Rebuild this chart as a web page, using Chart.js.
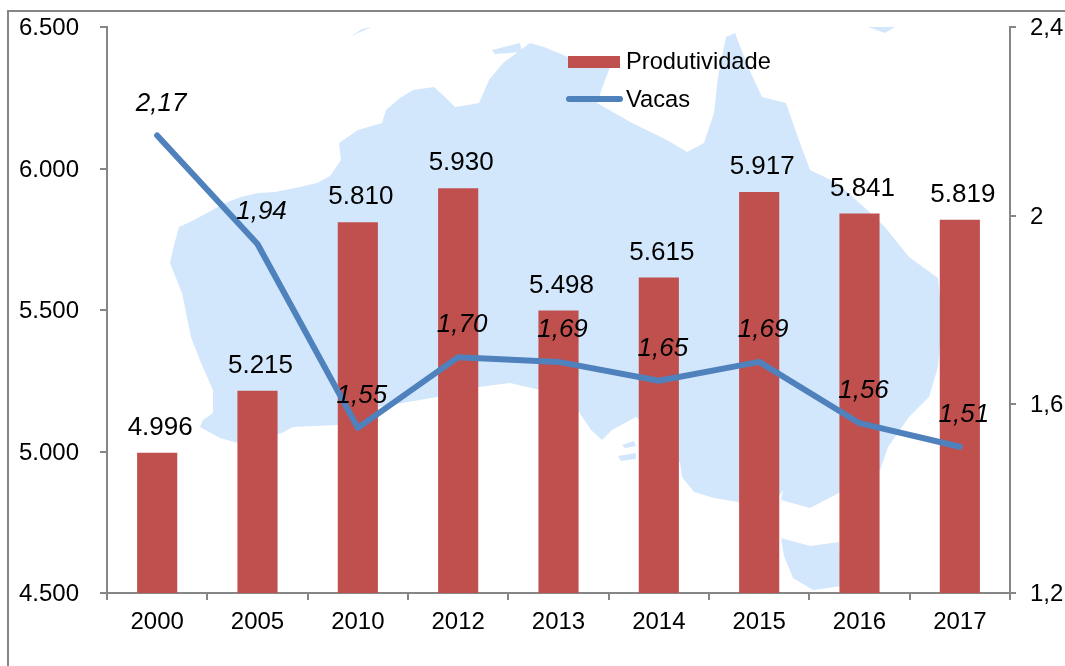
<!DOCTYPE html>
<html>
<head>
<meta charset="utf-8">
<script src="https://cdn.jsdelivr.net/npm/chart.js@4"></script>
<style>
    html, body { margin: 0; padding: 0; background: #fff; overflow: hidden; }
    #wrap { position: relative; width: 1065px; height: 666px; overflow: hidden; }
    #frame { position: absolute; left: 7px; top: 10px; width: 1100px; height: 700px; border: 2px solid #868686; }
    canvas { position: absolute; left: 0; top: 0; }
</style>
</head>
<body>
<div id="wrap">
    <div id="frame"></div>
    <canvas id="chart" width="1065" height="666"></canvas>
</div>
<script>
const years = ['2000', '2005', '2010', '2012', '2013', '2014', '2015', '2016', '2017'];
const produtividade = [4996, 5215, 5810, 5930, 5498, 5615, 5917, 5841, 5819];
const vacas = [2.17, 1.94, 1.55, 1.70, 1.69, 1.65, 1.69, 1.56, 1.51];

// Background map, traced in page pixels. Decoration only, no data in here
const MAINLAND = [
    [170,263],[174,245],[179,227],[190,222],[207,213],[225,203],[241,197],[258,193],[275,192],[300,187],[317,183],
    [330,176],[341,160],[339,143],[358,130],[382,123],
    [386,110],[400,98],[413,90],[434,87],[445,97],[455,107],[468,105],[479,103],[489,80],[503,63],[530,43],[544,47],[568,57],
    [612,62],[605,80],[597,103],[632,123],[667,140],[687,152],[704,143],[714,113],[718,77],[726,37],
    [735,33],[748,67],[762,97],[786,103],[800,143],[810,170],[837,183],[864,207],[885,227],[909,257],
    [938,278],[942,320],[938,367],[929,397],[909,417],[888,447],[880,470],[839,493],[810,508],[781,500],
    [783,490],[775,503],[738,502],[714,498],[694,492],[682,477],[680,463],[660,440],[636,417],[612,430],
    [602,440],[591,430],[579,412],[540,390],[510,383],[479,387],[437,397],[379,407],[337,425],[293,427],
    [282,433],[238,443],[220,438],[200,427],[203,420],[213,413],[213,390],[201,363],[191,337],[182,293]
];
const TASMANIA = [[781,538],[810,546],[839,542],[842,586],[813,590],[793,578],[784,556]];
const MELVILLE = [[492,50],[520,43],[522,52],[495,54]];
const KANGAROO = [[618,456],[636,453],[636,459],[621,461]];
const YORKE_ISLE = [[622,445],[634,441],[636,446],[625,448]];
const NORTH_TIP_LEFT = [[350,37],[362,29],[372,27],[358,33]];
const NORTH_TIP_RIGHT = [[868,27],[895,27],[885,33]];
const MAP_SHAPES = [MAINLAND, TASMANIA, MELVILLE, KANGAROO, YORKE_ISLE, NORTH_TIP_LEFT, NORTH_TIP_RIGHT];

const GREY = '#868686';
const FONT = '"Liberation Sans", Arial, sans-serif';

const mapBackground = {
    id: 'mapBackground',
    beforeDatasetsDraw(chart) {
        const ctx = chart.ctx;
        ctx.save();
        ctx.fillStyle = '#D2E7FB';
        MAP_SHAPES.forEach(shape => {
            ctx.beginPath();
            shape.forEach((p, i) => i ? ctx.lineTo(p[0], p[1]) : ctx.moveTo(p[0], p[1]));
            ctx.closePath();
            ctx.fill();
        });
        ctx.restore();
    }
};

// Value labels and the legend sit on top of everything
const valueLabels = {
    id: 'valueLabels',
    afterDatasetsDraw(chart) {
        const ctx = chart.ctx;
        ctx.save();
        ctx.fillStyle = '#000';
        ctx.textAlign = 'center';
        ctx.textBaseline = 'middle';
        ctx.font = '26px ' + FONT;
        chart.getDatasetMeta(0).data.forEach((bar, i) => {
            ctx.fillText(produtividade[i].toLocaleString('de-DE'), bar.x + 3, bar.y - 25);
        });
        ctx.font = 'italic 26px ' + FONT;
        chart.getDatasetMeta(1).data.forEach((pt, i) => {
            ctx.fillText(vacas[i].toFixed(2).replace('.', ','), pt.x + 4, pt.y - 32);
        });

        ctx.font = '23.7px ' + FONT;
        ctx.textAlign = 'left';
        ctx.fillStyle = '#C0504D';
        ctx.fillRect(568, 56, 52, 12);
        ctx.strokeStyle = '#4F81BD';
        ctx.lineWidth = 6;
        ctx.lineCap = 'round';
        ctx.beginPath();
        ctx.moveTo(569, 99);
        ctx.lineTo(620, 99);
        ctx.stroke();
        ctx.fillStyle = '#000';
        ctx.fillText('Produtividade', 626, 62);
        ctx.fillText('Vacas', 626, 100);
        ctx.restore();
    }
};

// The tick padding would otherwise push the plot area down
const fitVertical = width => scale => {
    scale.width = width;
    scale.paddingTop = 0;
    scale.paddingBottom = 0;
};

new Chart(document.getElementById('chart').getContext('2d'), {
    data: {
        labels: years,
        datasets: [
            {
                type: 'bar',
                label: 'Produtividade',
                data: produtividade,
                yAxisID: 'y',
                backgroundColor: '#C0504D',
                barPercentage: 0.4,
                categoryPercentage: 1,
                order: 2
            },
            {
                type: 'line',
                label: 'Vacas',
                data: vacas,
                yAxisID: 'y1',
                borderColor: '#4F81BD',
                borderWidth: 6,
                borderCapStyle: 'round',
                borderJoinStyle: 'round',
                pointRadius: 0,
                tension: 0,
                order: 1
            }
        ]
    },
    options: {
        responsive: false,
        animation: false,
        layout: { padding: { top: 27, left: 0, right: 0, bottom: 0 } },
        plugins: { legend: { display: false }, tooltip: { enabled: false }, title: { display: false } },
        scales: {
            x: {
                afterFit: scale => { scale.height = 73; },
                grid: { drawOnChartArea: false, color: GREY, lineWidth: 2, tickLength: 7 },
                border: { color: GREY, width: 2 },
                ticks: { color: '#000', font: { family: FONT, size: 24 }, padding: 8, maxRotation: 0 }
            },
            y: {
                position: 'left',
                min: 4500,
                max: 6500,
                afterFit: fitVertical(107),
                grid: { drawOnChartArea: false, color: GREY, lineWidth: 2, tickLength: 7 },
                border: { color: GREY, width: 2 },
                ticks: {
                    stepSize: 500,
                    color: '#000',
                    font: { family: FONT, size: 24 },
                    padding: 21,
                    labelOffset: 1.5,
                    callback: v => v.toLocaleString('de-DE')
                }
            },
            y1: {
                position: 'right',
                min: 1.2,
                max: 2.4,
                afterFit: fitVertical(55),
                grid: { drawOnChartArea: false, color: GREY, lineWidth: 2, tickLength: 6 },
                border: { color: GREY, width: 2 },
                ticks: {
                    stepSize: 0.4,
                    color: '#000',
                    font: { family: FONT, size: 24 },
                    padding: 14,
                    labelOffset: 1.5,
                    callback: v => String(Math.round(v * 10) / 10).replace('.', ',')
                }
            }
        }
    },
    plugins: [mapBackground, valueLabels]
});
</script>
</body>
</html>
